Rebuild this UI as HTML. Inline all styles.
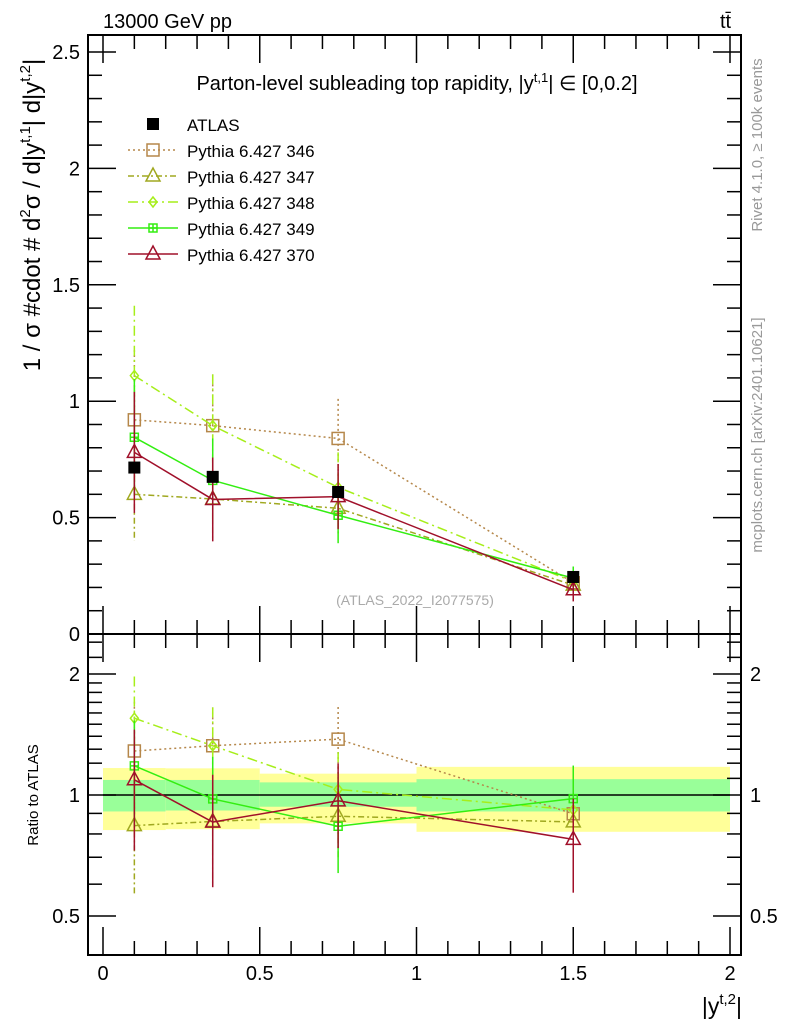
<!DOCTYPE html>
<html><head><meta charset="utf-8"><style>
body{margin:0;background:#fff;}
svg{display:block;font-family:"Liberation Sans",sans-serif;}
</style></head><body>
<svg id="c" width="786" height="1024" viewBox="0 0 786 1024">
<text x="103" y="28" font-size="20">13000 GeV pp</text>
<text x="720" y="28" font-size="20">tt̄</text>
<text x="417" y="90" font-size="20" text-anchor="middle">Parton-level subleading top rapidity, |y<tspan dy="-8" font-size="13">t,1</tspan><tspan dy="8">| ∈ [0,0.2]</tspan></text>
<text transform="translate(762,145) rotate(-90)" font-size="15" fill="#999" text-anchor="middle">Rivet 4.1.0, ≥ 100k events</text>
<text transform="translate(762,435) rotate(-90)" font-size="15" fill="#999" text-anchor="middle">mcplots.cern.ch [arXiv:2401.10621]</text>
<text transform="translate(40,215) rotate(-90)" font-size="24" text-anchor="middle">1 / σ #cdot # d<tspan dy="-10" font-size="15">2</tspan><tspan dy="10">σ / d|y</tspan><tspan dy="-10" font-size="15">t,1</tspan><tspan dy="10">| d|y</tspan><tspan dy="-10" font-size="15">t,2</tspan><tspan dy="10">|</tspan></text>
<text transform="translate(38,795) rotate(-90)" font-size="15" text-anchor="middle">Ratio to ATLAS</text>
<text x="742" y="1014" font-size="23" text-anchor="end">|y<tspan dy="-10" font-size="15">t,2</tspan><tspan dy="10">|</tspan></text>
<text x="415" y="605" font-size="14" fill="#aaa" text-anchor="middle">(ATLAS_2022_I2077575)</text>
<g id="bands"></g><g id="axes"></g><g id="series"></g><g id="legend"></g>
</svg>
<script>
const xBins=[[0,0.2],[0.2,0.5],[0.5,1],[1,2]];
const xPts=[0.1,0.35,0.75,1.5];
const atlas=[0.715,0.675,0.61,0.245];
const bandTotLo=[0.818,0.822,0.85,0.81];
const bandTotHi=[1.167,1.165,1.13,1.175];
const bandStatLo=[0.91,0.915,0.935,0.91];
const bandStatHi=[1.09,1.09,1.075,1.095];
const s346=[0.92,0.895,0.84,0.22];
const s347=[0.60,0.58,0.54,0.21];
const s348=[1.11,0.895,0.63,0.225];
const s349=[0.845,0.66,0.51,0.24];
const s370=[0.78,0.578,0.59,0.19];
const e346=[0.3,0.22,0.17,0.05];
const e347=[0.2,0.18,0.12,0.04];
const e348=[0.3,0.22,0.15,0.05];
const e349=[0.25,0.18,0.12,0.05];
const e370=[0.26,0.18,0.14,0.05];
const mainTicks=[0,0.5,1,1.5,2,2.5];
const mainTickLabels=["0","0.5","1","1.5","2","2.5"];
const ratioTicks=[0.5,1,2];
const ratioTickLabels=["0.5","1","2"];
const xTicks=[0,0.5,1,1.5,2];
const xTickLabels=["0","0.5","1","1.5","2"];
const names=["Pythia 6.427 346","Pythia 6.427 347","Pythia 6.427 348","Pythia 6.427 349","Pythia 6.427 370"];

const L=88,R=741,T=35,M=634,B=955;
const X=v=>103+v*313.5;
const Y=v=>634-v*232.8;
const RY=r=>795-121*Math.log2(r);
const NS="http://www.w3.org/2000/svg";
function mk(p,t,a){const e=document.createElementNS(NS,t);for(const k in a)e.setAttribute(k,a[k]);p.appendChild(e);return e;}
const ax=document.getElementById('axes'),bd=document.getElementById('bands'),sg=document.getElementById('series'),lg=document.getElementById('legend');

xBins.forEach((b,i)=>{
 let r=mk(bd,'rect',{x:X(b[0]),y:RY(bandTotHi[i]),width:X(b[1])-X(b[0]),height:RY(bandTotLo[i])-RY(bandTotHi[i]),fill:'#ffff99'});
 
 
 let g=mk(bd,'rect',{x:X(b[0]),y:RY(bandStatHi[i]),width:X(b[1])-X(b[0]),height:RY(bandStatLo[i])-RY(bandStatHi[i]),fill:'#99ff99'});
 
 
});
let one=mk(ax,'line',{x1:X(0),x2:X(2),y1:RY(1),y2:RY(1),stroke:'#000','stroke-width':1.5});



[[T,M],[M,B]].forEach(f=>{let r=mk(ax,'rect',{x:L,y:f[0],width:R-L,height:f[1]-f[0],fill:'none',stroke:'#000','stroke-width':2});
 
 });
for(let i=0;i<=25;i++){const v=i/10,y=Y(v),len=i%5==0?28:14;
 mk(ax,'line',{x1:L,x2:L+len,y1:y,y2:y,stroke:'#000','stroke-width':1.5});
 mk(ax,'line',{x1:R,x2:R-len,y1:y,y2:y,stroke:'#000','stroke-width':1.5});}
mainTicks.forEach((v,i)=>{let t=mk(ax,'text',{x:80,y:Y(v)+7,'font-size':20,'text-anchor':'end'});t.textContent=mainTickLabels[i];
 
 });
const rMinor=[0.4,0.5,0.6,0.7,0.8,0.9,1,1.1,1.2,1.3,1.4,1.5,1.6,1.7,1.8,1.9,2,2.2,2.4];
rMinor.forEach(v=>{const y=RY(v);if(y<M+3||y>B-3)return;const maj=ratioTicks.includes(v),len=maj?28:14;
 mk(ax,'line',{x1:L,x2:L+len,y1:y,y2:y,stroke:'#000','stroke-width':1.5});
 mk(ax,'line',{x1:R,x2:R-len,y1:y,y2:y,stroke:'#000','stroke-width':1.5});});
ratioTicks.forEach((v,i)=>{let t=mk(ax,'text',{x:80,y:RY(v)+7,'font-size':20,'text-anchor':'end'});t.textContent=ratioTickLabels[i];
 
 
 let t2=mk(ax,'text',{x:750,y:RY(v)+7,'font-size':20});t2.textContent=ratioTickLabels[i];
 
 });
for(let i=0;i<=20;i++){const x=X(i/10),len=i%5==0?28:14;
 [M,B].forEach(b=>mk(ax,'line',{x1:x,x2:x,y1:b,y2:b-len,stroke:'#000','stroke-width':1.5}));
 mk(ax,'line',{x1:x,x2:x,y1:T,y2:T+len,stroke:'#000','stroke-width':1.5});
 mk(ax,'line',{x1:x,x2:x,y1:M,y2:M+len,stroke:'#000','stroke-width':1.5});}
xTicks.forEach((v,i)=>{let t=mk(ax,'text',{x:X(v),y:980,'font-size':20,'text-anchor':'middle'});t.textContent=xTickLabels[i];
 
 });

function marker(p,type,x,y,col){
 if(type=='sq')mk(p,'rect',{x:x-6,y:y-6,width:12,height:12,fill:'none',stroke:col,'stroke-width':1.5});
 else if(type=='tri')mk(p,'path',{d:`M${x},${y-8}L${x+7},${y+5}L${x-7},${y+5}Z`,fill:'none',stroke:col,'stroke-width':1.5});
 else if(type=='dia')mk(p,'path',{d:`M${x},${y-5}L${x+4},${y}L${x},${y+5}L${x-4},${y}Z`,fill:'none',stroke:col,'stroke-width':1.5});
 else if(type=='cross')mk(p,'path',{d:`M${x-4},${y-4}h8v8h-8zM${x-4},${y}h8M${x},${y-4}v8`,fill:'none',stroke:col,'stroke-width':1.5});
 else if(type=='fsq')mk(p,'rect',{x:x-6,y:y-6,width:12,height:12,fill:col});
}
const sers=[[s346,e346,'#b5874a','2,3','sq'],[s347,e347,'#a0a820','6,3,2,3','tri'],[s348,e348,'#a6ee1a','10,4,2,4','dia'],[s349,e349,'#33ee11','','cross'],[s370,e370,'#a0102a','','tri']];
const keys=['series-346','series-347','series-348','series-349','series-370'];
sers.forEach((s,k)=>{
 const [v,e,col,dash,mkType]=s;
 const g=mk(sg,'g',{});
 
 
 mk(g,'polyline',{points:xPts.map((x,i)=>X(x)+','+Y(v[i])).join(' '),fill:'none',stroke:col,'stroke-width':1.5,'stroke-dasharray':dash});
 mk(g,'polyline',{points:xPts.map((x,i)=>X(x)+','+RY(v[i]/atlas[i])).join(' '),fill:'none',stroke:col,'stroke-width':1.5,'stroke-dasharray':dash});
 xPts.forEach((x,i)=>{
  const px=X(x);
  mk(g,'line',{x1:px,x2:px,y1:Y(v[i]+e[i]),y2:Y(Math.max(0,v[i]-e[i])),stroke:col,'stroke-width':1.5,'stroke-dasharray':dash});
  const lo=Math.max(0.01,(v[i]-e[i])/atlas[i]),hi=(v[i]+e[i])/atlas[i];
  mk(g,'line',{x1:px,x2:px,y1:Math.max(M,RY(hi)),y2:Math.min(B,RY(lo)),stroke:col,'stroke-width':1.5,'stroke-dasharray':dash});
  marker(g,mkType,px,Y(v[i]),col);
  marker(g,mkType,px,RY(v[i]/atlas[i]),col);
 });
});
const ga=mk(sg,'g',{});


xPts.forEach((x,i)=>marker(ga,'fsq',X(x),Y(atlas[i]),'#000'));

let ly=124;
const le=mk(lg,'g',{});


marker(le,'fsq',153,ly,'#000');
let lt=mk(le,'text',{x:187,y:ly+7,'font-size':17});lt.textContent='ATLAS';
sers.forEach((s,k)=>{const y=ly+26*(k+1);
 const g=mk(lg,'g',{});
 
 
 mk(g,'line',{x1:128,x2:178,y1:y,y2:y,stroke:s[2],'stroke-width':1.5,'stroke-dasharray':s[3]});
 marker(g,s[4],153,y,s[2]);
 const t=mk(g,'text',{x:187,y:y+7,'font-size':17});t.textContent=names[k];});
</script>
</body></html>
